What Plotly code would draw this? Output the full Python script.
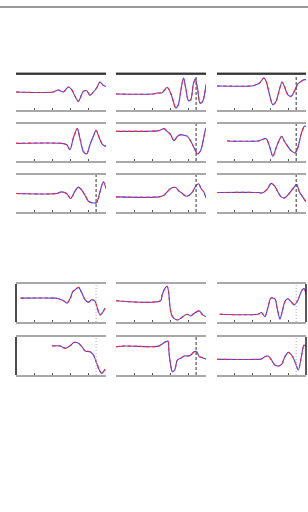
import plotly.graph_objects as go

# ---- data: per-panel time (0-100) and normalised response ----
x1 = [0, 41.5, 47, 52.6, 58.1, 61.9, 65.6, 69.3, 74.8, 78.5, 82.2, 85.9, 89.6, 93.3, 97.0, 100]
y1 = [0.5, 0.5, 0.556, 0.5, 0.639, 0.565, 0.380, 0.241, 0.519, 0.537, 0.407, 0.5, 0.611, 0.778, 0.685, 0.657]
x2 = [0, 50.7, 56.3, 60, 63.7, 68.1, 71.1, 74.8, 78.5, 82.2, 85.9, 88.9, 92.6, 96.3, 100]
y2 = [0.477, 0.477, 0.441, 0.306, 0.622, 0.874, 0.604, 0.261, 0.189, 0.441, 0.667, 0.829, 0.622, 0.441, 0.396]
x3 = [0, 45.2, 50.7, 56.3, 60.7, 65.6, 69.3, 73.0, 76.7, 80.4, 85.9, 89.6, 93.3, 97.0, 100]
y3 = [0.5, 0.5, 0.545, 0.5, 0.364, 0.564, 0.673, 0.591, 0.455, 0.291, 0.245, 0.255, 0.545, 0.818, 0.636]
x4 = [0, 40.1, 45.7, 51.3, 56.9, 60.7, 63.7, 66.3, 69.3, 71.9, 74.9, 77.5, 80.5, 83.1, 85.8, 88.0, 90.6, 93.3, 96.3, 100]
y4 = [0.444, 0.444, 0.472, 0.481, 0.630, 0.472, 0.241, 0.056, 0.148, 0.519, 0.889, 0.611, 0.259, 0.287, 0.704, 0.870, 0.611, 0.194, 0.241, 0.704]
x5 = [0, 10.1, 34.5, 47.6, 53.2, 56.9, 60.7, 64.4, 68.2, 71.9, 75.7, 79.4, 83.1, 86.9, 90.6, 93.6, 96.3, 98.9, 100]
y5 = [0.802, 0.802, 0.802, 0.820, 0.874, 0.802, 0.712, 0.550, 0.667, 0.712, 0.694, 0.667, 0.532, 0.351, 0.189, 0.261, 0.486, 0.802, 0.892]
x6 = [0, 47.6, 53.2, 56.9, 60.7, 66.3, 70.0, 73.8, 77.5, 81.3, 85.0, 88.8, 91.8, 94.4, 97.4, 100]
y6 = [0.409, 0.409, 0.455, 0.545, 0.636, 0.664, 0.564, 0.5, 0.427, 0.455, 0.545, 0.709, 0.764, 0.636, 0.545, 0.382]
x7 = [0, 38.4, 42.2, 47.8, 52.6, 55.2, 59.0, 62.7, 66.4, 70.1, 73.1, 75.7, 79.5, 83.2, 86.9, 90.7, 94.4, 98.1, 100]
y7 = [0.667, 0.667, 0.685, 0.750, 0.889, 0.796, 0.426, 0.148, 0.241, 0.565, 0.778, 0.657, 0.426, 0.380, 0.519, 0.722, 0.796, 0.843, 0.843]
x8 = [11.2, 45.9, 49.6, 55.2, 59.0, 62.7, 66.4, 70.1, 72.8, 75.7, 79.5, 83.2, 87.7, 90.7, 94.4, 98.1, 100]
y8 = [0.541, 0.541, 0.568, 0.604, 0.396, 0.126, 0.351, 0.577, 0.667, 0.532, 0.396, 0.279, 0.216, 0.351, 0.712, 0.937, 0.937]
x9 = [0, 45.9, 51.5, 57.1, 60.8, 64.6, 68.3, 72.0, 75.7, 79.5, 83.2, 86.9, 89.6, 92.5, 96.3, 100]
y9 = [0.527, 0.527, 0.518, 0.636, 0.773, 0.709, 0.545, 0.409, 0.382, 0.455, 0.564, 0.682, 0.745, 0.545, 0.409, 0.273]
x10 = [5.1, 43.8, 47.4, 52.9, 56.6, 60.3, 63.2, 65.8, 69.5, 73.2, 76.8, 80.5, 84.2, 87.9, 90.4, 93.4, 96.3, 98.9]
y10 = [0.628, 0.628, 0.611, 0.558, 0.496, 0.628, 0.805, 0.850, 0.912, 0.761, 0.584, 0.522, 0.584, 0.540, 0.363, 0.186, 0.257, 0.363]
x11 = [40.1, 49.3, 54.8, 60.3, 64.7, 69.5, 73.2, 76.8, 82.4, 86.0, 89.7, 92.6, 95.2, 98.9]
y11 = [0.763, 0.763, 0.702, 0.772, 0.860, 0.833, 0.746, 0.632, 0.614, 0.526, 0.307, 0.132, 0.044, 0.149]
x12 = [0, 49.4, 51.3, 55.1, 56.9, 58.8, 59.9, 61.8, 64.4, 68.2, 71.9, 75.7, 79.4, 83.1, 86.9, 92.5, 96.3, 100]
y12 = [0.558, 0.558, 0.717, 0.912, 0.938, 0.717, 0.407, 0.186, 0.097, 0.053, 0.097, 0.168, 0.204, 0.159, 0.230, 0.292, 0.186, 0.142]
x13 = [0, 10.1, 41.9, 47.6, 51.3, 55.1, 57.7, 58.8, 60.7, 62.5, 65.2, 68.2, 71.9, 75.7, 79.4, 83.1, 86.9, 89.5, 92.5, 96.3, 100]
y13 = [0.746, 0.763, 0.746, 0.763, 0.816, 0.877, 0.895, 0.614, 0.263, 0.088, 0.132, 0.395, 0.439, 0.5, 0.5, 0.526, 0.614, 0.614, 0.482, 0.456, 0.421]
x14 = [3.0, 46.2, 50.0, 53.8, 57.5, 60.5, 65.0, 68.0, 70.7, 73.3, 76.3, 79.3, 83.1, 86.8, 90.6, 93.2, 95.9, 98.1, 100]
y14 = [0.204, 0.204, 0.248, 0.142, 0.407, 0.628, 0.611, 0.319, 0.080, 0.274, 0.540, 0.611, 0.540, 0.451, 0.558, 0.717, 0.850, 0.876, 0.717]
x15 = [0, 46.2, 50.0, 53.8, 57.5, 61.3, 65.0, 68.8, 72.6, 76.3, 80.1, 83.8, 87.6, 91.4, 95.1, 97.7, 100]
y15 = [0.412, 0.412, 0.421, 0.482, 0.5, 0.395, 0.263, 0.237, 0.281, 0.482, 0.596, 0.526, 0.351, 0.132, 0.526, 0.789, 0.746]

xs = [x1, x2, x3, x4, x5, x6, x7, x8, x9, x10, x11, x12, x13, x14, x15]
ys = [y1, y2, y3, y4, y5, y6, y7, y8, y9, y10, y11, y12, y13, y14, y15]
# panel order -> (row, col)
panel_pos = [(0, 0), (1, 0), (2, 0), (0, 1), (1, 1), (2, 1), (0, 2), (1, 2), (2, 2),
             (3, 0), (4, 0), (3, 1), (4, 1), (3, 2), (4, 2)]
marker_time = 89
marker_style = ["none", "none", "dash", "dash", "dash", "dash", "dash", "dash", "dash",
                "dot", "dot", "none", "dash", "dot", "dot"]

W, H = 308, 512
col_px = [(16, 106), (116, 206), (217, 306)]
row_px = [(74, 110), (124, 161), (175, 212), (284, 322), (337, 375)]

fig = go.Figure()
layout = dict(width=W, height=H, autosize=False, margin=dict(l=0, r=0, t=0, b=0),
              paper_bgcolor="white", plot_bgcolor="white", showlegend=False)
shapes = []

for i, (r, c) in enumerate(panel_pos):
    n = i + 1
    xa = "xaxis" if n == 1 else f"xaxis{n}"
    ya = "yaxis" if n == 1 else f"yaxis{n}"
    xr = "x" if n == 1 else f"x{n}"
    yr = "y" if n == 1 else f"y{n}"
    x0p, x1p = col_px[c]
    y0p, y1p = row_px[r]
    layout[xa] = dict(domain=[x0p / W, x1p / W], range=[0, 100], anchor=yr,
                      showgrid=False, zeroline=False, showticklabels=False,
                      showline=True, linecolor="#a8a8a8", linewidth=1.5, mirror=True,
                      ticks="inside", ticklen=2, tickcolor="#555", tickvals=[20, 40, 60, 80])
    layout[ya] = dict(domain=[1 - y1p / H, 1 - y0p / H], range=[0, 1], anchor=xr,
                      showgrid=False, zeroline=False, showticklabels=False,
                      showline=False, ticks="", fixedrange=True)
    if r == 0:
        shapes.append(dict(type="line", xref=f"{xr} domain", yref=f"{yr} domain",
                           x0=0, x1=1, y0=1, y1=1, line=dict(color="#111", width=1.5)))
    if r >= 3 and c == 0:
        shapes.append(dict(type="line", xref=f"{xr} domain", yref=f"{yr} domain",
                           x0=0, x1=0, y0=0, y1=1, line=dict(color="#111", width=1.5)))
    if r >= 3 and c == 2:
        shapes.append(dict(type="line", xref=f"{xr} domain", yref=f"{yr} domain",
                           x0=1, x1=1, y0=0, y1=1, line=dict(color="#222", width=1.5)))
    ms = marker_style[i]
    if ms != "none":
        col = "#555" if ms == "dash" else "#bbb"
        dsh = "3px,2px" if ms == "dash" else "1px,2px"
        shapes.append(dict(type="line", xref=xr, yref=f"{yr} domain",
                           x0=marker_time, x1=marker_time, y0=0, y1=1,
                           line=dict(color=col, width=1.2, dash=dsh)))
    fig.add_trace(go.Scatter(x=xs[i], y=ys[i], xaxis=xr, yaxis=yr, mode="lines",
                             line=dict(color="#4040ff", width=1.1, shape="spline", smoothing=0.8),
                             hoverinfo="skip"))
    fig.add_trace(go.Scatter(x=xs[i], y=ys[i], xaxis=xr, yaxis=yr, mode="lines",
                             line=dict(color="#ff2a2a", width=1.1, shape="spline", smoothing=0.8,
                                       dash="3px,3px"),
                             hoverinfo="skip"))

shapes.append(dict(type="line", xref="paper", yref="paper", x0=0, x1=1,
                   y0=1 - 7 / H, y1=1 - 7 / H, line=dict(color="#777", width=1.5)))
layout["shapes"] = shapes
fig.update_layout(**layout)
fig.write_html("out.html")
